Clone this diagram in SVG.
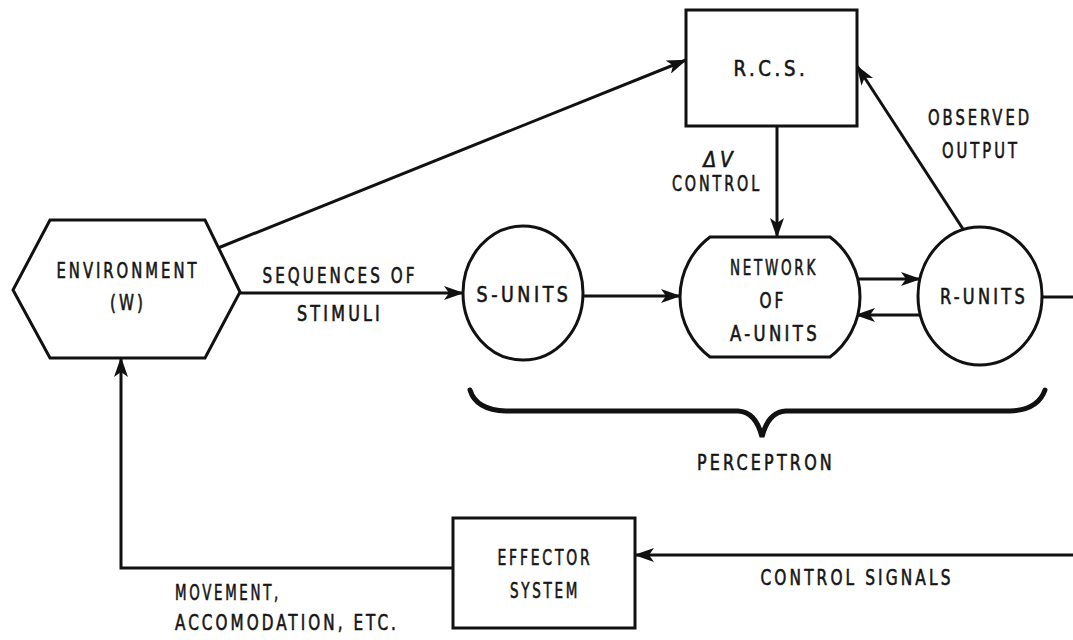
<svg xmlns="http://www.w3.org/2000/svg" width="1073" height="640" viewBox="0 0 1073 640">
<style>
.shape{fill:#fff;stroke:#111;stroke-width:3}
.conn{fill:none;stroke:#111;stroke-width:3}
.lbl{font-family:"DejaVu Sans Condensed","DejaVu Sans",sans-serif;font-size:22px;letter-spacing:4px;fill:#151515;stroke:#151515;stroke-width:0.6;text-anchor:middle;dominant-baseline:central}
.st{text-anchor:start}
</style>
<defs>
<marker id="ah" viewBox="0 0 20 14" refX="19" refY="7" markerWidth="20" markerHeight="14" orient="auto" markerUnits="userSpaceOnUse">
<path d="M0,0 L20,7 L0,14 L5,7 z" fill="#111"/>
</marker>
</defs>
<rect width="1073" height="640" fill="#fff"/>
<g id="connectors">
<line class="conn" x1="218" y1="248" x2="686" y2="60" marker-end="url(#ah)"/>
<line class="conn" x1="240" y1="293" x2="463" y2="293" marker-end="url(#ah)"/>
<line class="conn" x1="583" y1="296" x2="680" y2="296" marker-end="url(#ah)"/>
<line class="conn" x1="777" y1="126" x2="777" y2="237" marker-end="url(#ah)"/>
<line class="conn" x1="856" y1="279" x2="920" y2="279" marker-end="url(#ah)"/>
<line class="conn" x1="920" y1="315" x2="856" y2="315" marker-end="url(#ah)"/>
<line class="conn" x1="1042" y1="297" x2="1073" y2="297"/>
<line class="conn" x1="963" y1="229" x2="857" y2="66" marker-end="url(#ah)"/>
<line class="conn" x1="1073" y1="555" x2="635" y2="555" marker-end="url(#ah)"/>
<polyline class="conn" points="453,568 121,568 121,358" marker-end="url(#ah)"/>
<path d="M470,390 Q476,410 506,411 L738,411 Q756,412 762,437 Q768,412 786,411 L1010,411 Q1038,410 1045,390" fill="none" stroke="#111" stroke-width="5" stroke-linecap="round" stroke-linejoin="miter"/>
</g>
<g id="environment">
<polygon class="shape" points="50,220 205,220 240,292 205,358 50,358 13,290"/>
<text class="lbl" x="128" y="270" textLength="143" lengthAdjust="spacingAndGlyphs">ENVIRONMENT</text>
<text class="lbl" x="128" y="302" textLength="36" lengthAdjust="spacingAndGlyphs">(W)</text>
</g>
<g id="rcs">
<rect class="shape" x="686" y="10" width="171" height="116"/>
<text class="lbl" x="771" y="68" textLength="75" lengthAdjust="spacingAndGlyphs">R.C.S.</text>
</g>
<g id="s-units">
<ellipse class="shape" cx="523" cy="293" rx="60" ry="67"/>
<text class="lbl" x="524" y="294" textLength="95" lengthAdjust="spacingAndGlyphs">S-UNITS</text>
</g>
<g id="network">
<path class="shape" d="M710,237 L830,237 A75,75 0 0 1 830,357 L710,357 A75,75 0 0 1 710,237 Z"/>
<text class="lbl" x="774" y="267" textLength="88" lengthAdjust="spacingAndGlyphs">NETWORK</text>
<text class="lbl" x="773" y="300" textLength="27" lengthAdjust="spacingAndGlyphs">OF</text>
<text class="lbl" x="775" y="333" textLength="90" lengthAdjust="spacingAndGlyphs">A-UNITS</text>
</g>
<g id="r-units">
<ellipse class="shape" cx="980" cy="296" rx="62" ry="69"/>
<text class="lbl" x="984" y="296" textLength="88" lengthAdjust="spacingAndGlyphs">R-UNITS</text>
</g>
<g id="effector">
<rect class="shape" x="453" y="518" width="182" height="110"/>
<text class="lbl" x="545" y="557" textLength="95" lengthAdjust="spacingAndGlyphs">EFFECTOR</text>
<text class="lbl" x="545" y="590" textLength="70" lengthAdjust="spacingAndGlyphs">SYSTEM</text>
</g>
<g id="labels">
<text class="lbl" x="340" y="275" textLength="155" lengthAdjust="spacingAndGlyphs">SEQUENCES OF</text>
<text class="lbl" x="340" y="313" textLength="86" lengthAdjust="spacingAndGlyphs">STIMULI</text>
<text class="lbl" x="720" y="159" font-style="italic" textLength="33" lengthAdjust="spacingAndGlyphs">ΔV</text>
<text class="lbl" x="717" y="183" textLength="90" lengthAdjust="spacingAndGlyphs">CONTROL</text>
<text class="lbl" x="980" y="117" textLength="104" lengthAdjust="spacingAndGlyphs">OBSERVED</text>
<text class="lbl" x="981" y="150" textLength="78" lengthAdjust="spacingAndGlyphs">OUTPUT</text>
<text class="lbl" x="766" y="462" textLength="138" lengthAdjust="spacingAndGlyphs">PERCEPTRON</text>
<text class="lbl" x="857" y="577" textLength="193" lengthAdjust="spacingAndGlyphs">CONTROL SIGNALS</text>
<text class="lbl st" x="175" y="592" textLength="106" lengthAdjust="spacingAndGlyphs">MOVEMENT,</text>
<text class="lbl st" x="175" y="622" textLength="224" lengthAdjust="spacingAndGlyphs">ACCOMODATION, ETC.</text>
</g>
</svg>
